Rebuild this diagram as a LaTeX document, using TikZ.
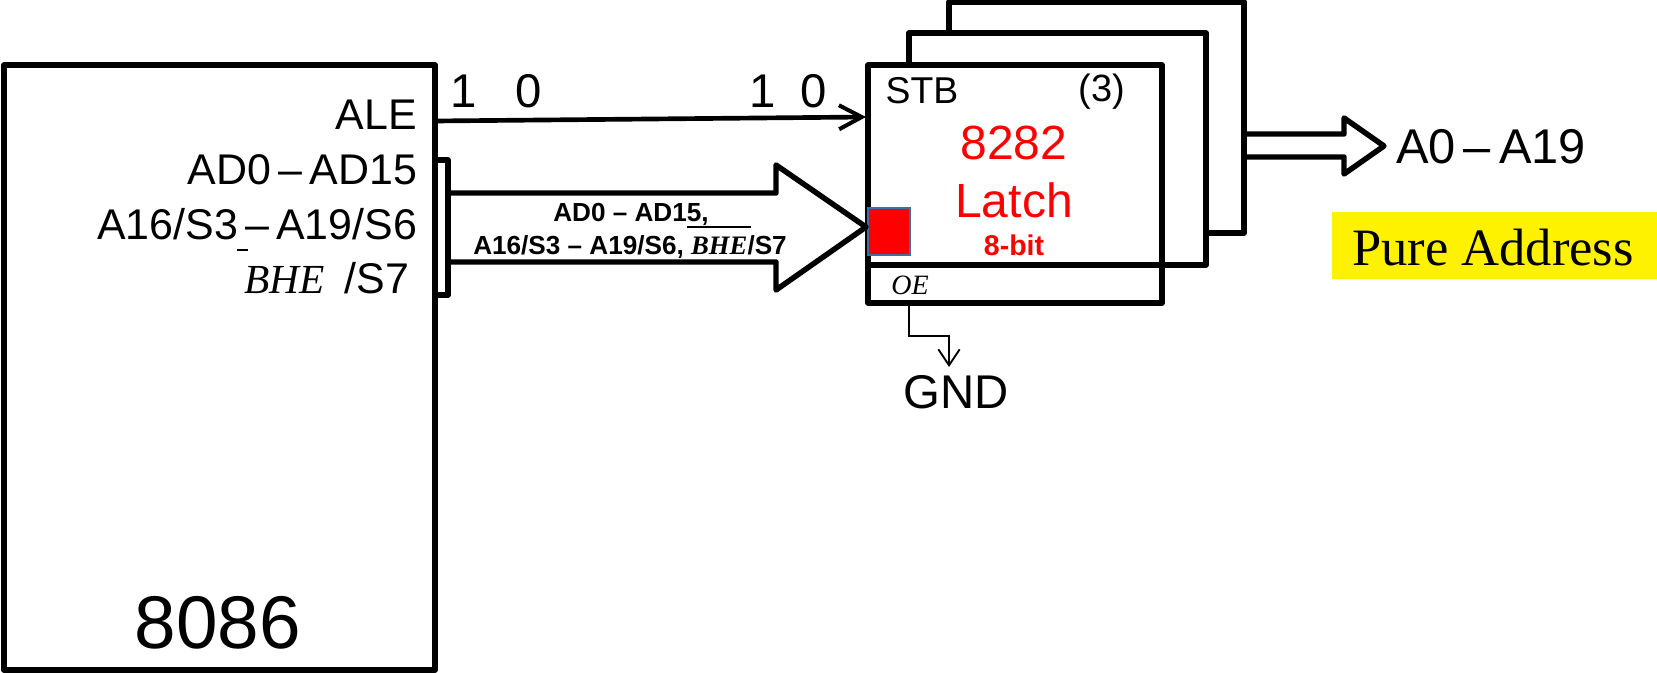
\documentclass[tikz,border=0pt]{standalone}
\usepackage{fontspec}
\setmainfont{Liberation Sans}
\newfontfamily\serf{Liberation Serif}
\usetikzlibrary{arrows.meta}
\newcommand{\fs}[1]{\fontsize{#1}{#1}\selectfont}
\tikzset{
  thick line/.style={line width=4.1pt,line join=round,line cap=round},
  boxn/.style={draw,fill=white,thick line,inner sep=0pt,outer sep=0pt},
  lbl/.style={inner sep=0pt,outer sep=0pt,text=black},
  pin/.style={lbl,anchor=east,font=\fs{32.2}},
  big/.style={lbl,font=\fs{35.5}},
  redt/.style={lbl,text=red,font=\fs{36}},
  bus/.style={lbl,font=\fs{19.6}\bfseries},
}
\begin{document}
\begin{tikzpicture}[x=0.75pt,y=-0.75pt]
\useasboundingbox (0,0) rectangle (1657,673);
% chip
\node[boxn,minimum width={431*0.75pt},minimum height={605*0.75pt}] (chip) at (219.5,367.5) {};
% latches
\node[boxn,minimum width={295*0.75pt},minimum height={231*0.75pt}] (back) at (1096.5,117.5) {};
\node[boxn,minimum width={297*0.75pt},minimum height={232*0.75pt}] (mid) at (1057.5,149) {};
\node[boxn,minimum width={294*0.75pt},minimum height={238*0.75pt}] (front) at (1015,184) {};
\coordinate (divL) at (868,265);
\coordinate (divR) at (1162,265);
\draw[thick line] (divL) -- (divR);
% red square
\node[draw={rgb,255:red,65;green,110;blue,160},fill=red,line width=1.5pt,inner sep=0pt,outer sep=0pt,minimum width={42*0.75pt},minimum height={47*0.75pt}] (sq) at (888.5,231.5) {};
% ALE
\coordinate (aleS) at (435,121);
\coordinate (aleE) at (866,117);
\draw[line width=3.5pt,-{Straight Barb[length=17pt,width=18pt,line width=3pt]}] (aleS) -- (aleE);
% bracket
\coordinate (brTL) at (435,160);
\coordinate (brTR) at (448,160);
\coordinate (brBR) at (448,295);
\coordinate (brBL) at (435,295);
\draw[thick line] (brTL) -- (brTR) -- (brBR) -- (brBL);
% big arrow
\coordinate (baA) at (450,193);
\coordinate (baB) at (776,193);
\coordinate (baC) at (776,165);
\coordinate (baT) at (866,227);
\coordinate (baD) at (776,290);
\coordinate (baE) at (776,262);
\coordinate (baF) at (450,262);
\draw[thick line] (baA) -- (baB) -- (baC) -- (baT) -- (baD) -- (baE) -- (baF);
% output arrow
\coordinate (oaA) at (1245,134);
\coordinate (oaB) at (1344,134);
\coordinate (oaC) at (1344,118);
\coordinate (oaT) at (1384,146);
\coordinate (oaD) at (1344,174);
\coordinate (oaE) at (1344,157);
\coordinate (oaF) at (1245,157);
\draw[thick line] (oaA) -- (oaB) -- (oaC) -- (oaT) -- (oaD) -- (oaE) -- (oaF);
% OE to GND
\node[big] (gnd) at (956,392) {GND};
\coordinate (oeS) at (909,303);
\coordinate (oeA) at (909,336);
\coordinate (oeB) at (949,336);
\coordinate (oeE) at (949,367);
\draw[line width=1.5pt,-{Straight Barb[length=12pt,width=16pt,line width=1.4pt]}] (oeS) -- (oeA) -- (oeB) -- (oeE);
% pin labels
\node[pin] (tale) at (417,115) {ALE};
\node[pin] (tad) at (417,170) {AD0\,–\,AD15};
\node[pin] (ta16) at (417,224) {A16/S3\,–\,A19/S6};
\node[pin] (tbhe) at (409,278) {{\fs{31}\serf\itshape BHE}\hspace{15pt}/S7};
\coordinate (bhL) at (237,250);
\coordinate (bhR) at (248,250);
\draw[line width=1.5pt] (bhL) -- (bhR);
\node[lbl,font=\fs{56}] (t8086) at (218,623) {8086};
\node[big] (h1) at (464,91) {1};
\node[big] (h0) at (529,91) {0};
\node[big] (h1b) at (763,91) {1};
\node[big] (h0b) at (814,91) {0};
% latch labels
\node[lbl,font=\fs{28}] (stb) at (922,91) {STB};
\node[lbl,font=\fs{28.5}] (three) at (1102,92) {(3)};
\node[redt] (t8282) at (1014,143) {8282};
\node[redt] (tlatch) at (1014,200) {Latch};
\node[lbl,text=red,font=\fs{21.4}\bfseries] (tbit) at (1014,245) {8-bit};
\node[lbl,font=\fs{21}\serf\itshape] (toe) at (910,285) {OE};
% bus labels
\node[bus] (bus1) at (631,214) {AD0 – AD15,};
\node[bus] (bus2) at (630,247) {A16/S3 – A19/S6, {\fs{20}\serf\itshape\bfseries BHE}/S7};
\coordinate (ovL) at (687,227);
\coordinate (ovR) at (751,227);
\draw[line width=2pt] (ovL) -- (ovR);
% output labels
\node[big,font=\fs{36.6}] (a0) at (1491,147) {A0\,–\,A19};
\node[fill=yellow,inner sep=0pt,outer sep=0pt,minimum width={325*0.75pt},minimum height={67*0.75pt}] (ybox) at (1494.5,245.5) {};
\node[lbl,font=\fs{39.4}\serf] (pure) at (1493,248) {Pure Address};
\end{tikzpicture}
\end{document}
